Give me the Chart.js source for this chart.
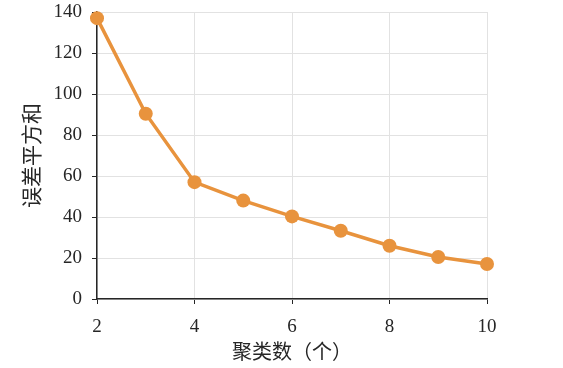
<!DOCTYPE html>
<html>
<head>
<meta charset="utf-8">
<script src="https://cdn.jsdelivr.net/npm/chart.js@4"></script>
<style>
  html, body { margin: 0; padding: 0; background: #fff; }
  #wrap { width: 563px; height: 368px; }
</style>
</head>
<body>
<div id="wrap"><canvas id="chart" width="563" height="368"></canvas></div>
<script>
// 聚类数 vs 误差平方和 (elbow curve)
const clusterCounts = [2, 3, 4, 5, 6, 7, 8, 9, 10];
const sseValues = [137, 90.4, 57, 48, 40.3, 33.3, 26, 20.5, 17.1];
const xTicks = [2, 4, 6, 8, 10];
const yTicks = [0, 20, 40, 60, 80, 100, 120, 140];

const orange = "#E8933D";
const ink = "#262626";
const numFont = { family: "'Liberation Serif', 'DejaVu Serif', serif", size: 19 };
const xTitleFont = { family: "'Liberation Serif', 'Noto Sans CJK SC', serif", size: 20 };
const yTitleFont = { family: "'Liberation Serif', 'Noto Sans CJK SC', serif", size: 21 };

new Chart(document.getElementById("chart"), {
    type: "line",
    data: {
        datasets: [
            {
                data: clusterCounts.map((x, i) => ({ x, y: sseValues[i] })),
                borderColor: orange,
                backgroundColor: orange,
                borderWidth: 3.5,
                pointRadius: 7,
                pointHoverRadius: 7,
                pointBorderWidth: 0,
                tension: 0,
                clip: false,
            },
        ],
    },
    options: {
        responsive: false,
        animation: false,
        layout: { padding: { top: 12, right: 76, bottom: 0, left: 0 } },
        plugins: {
            legend: { display: false },
            tooltip: { enabled: false },
        },
        scales: {
            x: {
                type: "linear",
                min: 2,
                max: 10,
                afterBuildTicks: (axis) => {
                    axis.ticks = xTicks.map((v) => ({ value: v }));
                },
                afterFit: (axis) => {
                    axis.height = 69;
                    axis.paddingLeft = 0;
                    axis.paddingRight = 0;
                },
                grid: {
                    color: "#e2e2e2",
                    lineWidth: 1,
                    tickLength: 5,
                    tickColor: ink,
                    drawTicks: true,
                },
                border: { color: ink, width: 1.5 },
                ticks: {
                    font: numFont,
                    color: ink,
                    padding: 12,
                    maxRotation: 0,
                },
                title: {
                    display: true,
                    text: "聚类数（个）",
                    font: xTitleFont,
                    color: ink,
                    padding: { top: 0, bottom: 2 },
                },
            },
            y: {
                min: 0,
                max: 140,
                afterBuildTicks: (axis) => {
                    axis.ticks = yTicks.map((v) => ({ value: v }));
                },
                afterFit: (axis) => {
                    axis.width = 97;
                    axis.paddingTop = 0;
                    axis.paddingBottom = 0;
                },
                grid: {
                    color: "#e2e2e2",
                    lineWidth: 1,
                    tickLength: 5,
                    tickColor: ink,
                },
                border: { color: ink, width: 1.5 },
                ticks: {
                    font: numFont,
                    color: ink,
                    padding: 10,
                },
                title: {
                    display: true,
                    text: "误差平方和",
                    font: yTitleFont,
                    color: ink,
                    padding: { top: 21, bottom: 0 },
                },
            },
        },
    },
});
</script>
</body>
</html>
